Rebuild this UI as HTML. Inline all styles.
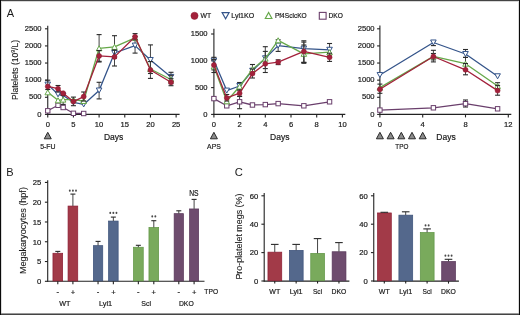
<!DOCTYPE html>
<html><head><meta charset="utf-8"><style>
html,body{margin:0;padding:0;background:#fff;}
body{width:520px;height:315px;overflow:hidden;}
svg{display:block;font-family:"Liberation Sans", sans-serif;will-change:transform;}
</style></head><body>
<svg width="520" height="315" viewBox="0 0 520 315">
<rect x="0" y="0" width="520" height="315" fill="#fff"/>
<text x="10.50" y="17.00" font-size="11" text-anchor="middle" fill="#1a1a1a" >A</text>
<line x1="47.75" y1="25.70" x2="47.75" y2="114.90" stroke="#222" stroke-width="1.1"/>
<line x1="47.25" y1="114.40" x2="179.60" y2="114.40" stroke="#222" stroke-width="1.1"/>
<line x1="44.95" y1="114.40" x2="47.75" y2="114.40" stroke="#222" stroke-width="1.1"/>
<text x="41.60" y="116.60" font-size="7.6" text-anchor="end" fill="#1a1a1a" stroke="#1a1a1a" stroke-width="0.2" >0</text>
<line x1="44.95" y1="97.28" x2="47.75" y2="97.28" stroke="#222" stroke-width="1.1"/>
<text x="41.60" y="99.48" font-size="7.6" text-anchor="end" fill="#1a1a1a" stroke="#1a1a1a" stroke-width="0.2" >500</text>
<line x1="44.95" y1="80.16" x2="47.75" y2="80.16" stroke="#222" stroke-width="1.1"/>
<text x="41.60" y="82.36" font-size="7.6" text-anchor="end" fill="#1a1a1a" stroke="#1a1a1a" stroke-width="0.2" >1000</text>
<line x1="44.95" y1="63.04" x2="47.75" y2="63.04" stroke="#222" stroke-width="1.1"/>
<text x="41.60" y="65.24" font-size="7.6" text-anchor="end" fill="#1a1a1a" stroke="#1a1a1a" stroke-width="0.2" >1500</text>
<line x1="44.95" y1="45.92" x2="47.75" y2="45.92" stroke="#222" stroke-width="1.1"/>
<text x="41.60" y="48.12" font-size="7.6" text-anchor="end" fill="#1a1a1a" stroke="#1a1a1a" stroke-width="0.2" >2000</text>
<line x1="44.95" y1="28.80" x2="47.75" y2="28.80" stroke="#222" stroke-width="1.1"/>
<text x="41.60" y="31.00" font-size="7.6" text-anchor="end" fill="#1a1a1a" stroke="#1a1a1a" stroke-width="0.2" >2500</text>
<line x1="47.75" y1="114.40" x2="47.75" y2="117.40" stroke="#222" stroke-width="1.1"/>
<text x="47.75" y="126.90" font-size="7.6" text-anchor="middle" fill="#1a1a1a" stroke="#1a1a1a" stroke-width="0.2" >0</text>
<line x1="73.42" y1="114.40" x2="73.42" y2="117.40" stroke="#222" stroke-width="1.1"/>
<text x="73.42" y="126.90" font-size="7.6" text-anchor="middle" fill="#1a1a1a" stroke="#1a1a1a" stroke-width="0.2" >5</text>
<line x1="99.10" y1="114.40" x2="99.10" y2="117.40" stroke="#222" stroke-width="1.1"/>
<text x="99.10" y="126.90" font-size="7.6" text-anchor="middle" fill="#1a1a1a" stroke="#1a1a1a" stroke-width="0.2" >10</text>
<line x1="124.77" y1="114.40" x2="124.77" y2="117.40" stroke="#222" stroke-width="1.1"/>
<text x="124.77" y="126.90" font-size="7.6" text-anchor="middle" fill="#1a1a1a" stroke="#1a1a1a" stroke-width="0.2" >15</text>
<line x1="150.45" y1="114.40" x2="150.45" y2="117.40" stroke="#222" stroke-width="1.1"/>
<text x="150.45" y="126.90" font-size="7.6" text-anchor="middle" fill="#1a1a1a" stroke="#1a1a1a" stroke-width="0.2" >20</text>
<line x1="176.12" y1="114.40" x2="176.12" y2="117.40" stroke="#222" stroke-width="1.1"/>
<text x="176.12" y="126.90" font-size="7.6" text-anchor="middle" fill="#1a1a1a" stroke="#1a1a1a" stroke-width="0.2" >25</text>
<text x="113.60" y="140.30" font-size="9.2" text-anchor="middle" fill="#1a1a1a" stroke="#1a1a1a" stroke-width="0.2"  textLength="19.4" lengthAdjust="spacingAndGlyphs">Days</text>
<polygon points="44.25,138.8 51.25,138.8 47.75,132.3" fill="#8c8c8c" stroke="#2a2a2a" stroke-width="1.0" stroke-linejoin="miter"/>
<text x="47.85" y="148.60" font-size="7.8" text-anchor="middle" fill="#1a1a1a" stroke="#1a1a1a" stroke-width="0.2"  textLength="15.4" lengthAdjust="spacingAndGlyphs">5-FU</text>
<text x="0.00" y="0.00" font-size="8.3" text-anchor="middle" fill="#1a1a1a" stroke="#1a1a1a" stroke-width="0.1" transform="translate(17.8,70.0) rotate(-90)" textLength="60" lengthAdjust="spacingAndGlyphs">Platelets (10<tspan font-size="5.2" dy="-2.6">9</tspan><tspan dy="2.6">/L)</tspan></text>
<polyline points="47.75,110.80 58.02,105.30 63.16,107.50 73.42,113.30 83.69,113.50" fill="none" stroke="#6a3f6c" stroke-width="1.3" stroke-linejoin="round"/>
<rect x="45.55" y="108.60" width="4.4" height="4.4" fill="#fff" stroke="#6a3f6c" stroke-width="1.0"/>
<rect x="55.82" y="103.10" width="4.4" height="4.4" fill="#fff" stroke="#6a3f6c" stroke-width="1.0"/>
<rect x="60.95" y="105.30" width="4.4" height="4.4" fill="#fff" stroke="#6a3f6c" stroke-width="1.0"/>
<rect x="71.22" y="111.10" width="4.4" height="4.4" fill="#fff" stroke="#6a3f6c" stroke-width="1.0"/>
<rect x="81.49" y="111.30" width="4.4" height="4.4" fill="#fff" stroke="#6a3f6c" stroke-width="1.0"/>
<line x1="99.10" y1="82.30" x2="99.10" y2="98.90" stroke="#3a3a3a" stroke-width="0.95"/>
<line x1="96.60" y1="82.30" x2="101.60" y2="82.30" stroke="#2a2a2a" stroke-width="1.1"/>
<line x1="96.60" y1="98.90" x2="101.60" y2="98.90" stroke="#2a2a2a" stroke-width="1.1"/>
<line x1="135.05" y1="36.50" x2="135.05" y2="53.10" stroke="#3a3a3a" stroke-width="0.95"/>
<line x1="132.55" y1="36.50" x2="137.55" y2="36.50" stroke="#2a2a2a" stroke-width="1.1"/>
<line x1="132.55" y1="53.10" x2="137.55" y2="53.10" stroke="#2a2a2a" stroke-width="1.1"/>
<line x1="150.45" y1="44.90" x2="150.45" y2="73.50" stroke="#3a3a3a" stroke-width="0.95"/>
<line x1="147.95" y1="44.90" x2="152.95" y2="44.90" stroke="#2a2a2a" stroke-width="1.1"/>
<line x1="147.95" y1="73.50" x2="152.95" y2="73.50" stroke="#2a2a2a" stroke-width="1.1"/>
<line x1="170.99" y1="72.30" x2="170.99" y2="80.90" stroke="#3a3a3a" stroke-width="0.95"/>
<line x1="168.49" y1="72.30" x2="173.49" y2="72.30" stroke="#2a2a2a" stroke-width="1.1"/>
<line x1="168.49" y1="80.90" x2="173.49" y2="80.90" stroke="#2a2a2a" stroke-width="1.1"/>
<polyline points="47.75,84.60 58.02,94.30 63.16,95.50 73.42,102.30 83.69,104.40 99.10,90.50 114.50,53.00 135.05,45.60 150.45,60.00 170.99,76.90" fill="none" stroke="#34548a" stroke-width="1.3" stroke-linejoin="round"/>
<polygon points="44.95,82.08 50.55,82.08 47.75,87.12" fill="#fff" stroke="#34548a" stroke-width="1.0" stroke-linejoin="miter"/>
<polygon points="55.22,91.78 60.82,91.78 58.02,96.82" fill="#fff" stroke="#34548a" stroke-width="1.0" stroke-linejoin="miter"/>
<polygon points="60.36,92.98 65.95,92.98 63.16,98.02" fill="#fff" stroke="#34548a" stroke-width="1.0" stroke-linejoin="miter"/>
<polygon points="70.62,99.78 76.22,99.78 73.42,104.82" fill="#fff" stroke="#34548a" stroke-width="1.0" stroke-linejoin="miter"/>
<polygon points="80.89,101.88 86.49,101.88 83.69,106.92" fill="#fff" stroke="#34548a" stroke-width="1.0" stroke-linejoin="miter"/>
<polygon points="96.30,87.98 101.90,87.98 99.10,93.02" fill="#fff" stroke="#34548a" stroke-width="1.0" stroke-linejoin="miter"/>
<polygon points="111.70,50.48 117.30,50.48 114.50,55.52" fill="#fff" stroke="#34548a" stroke-width="1.0" stroke-linejoin="miter"/>
<polygon points="132.25,43.08 137.85,43.08 135.05,48.12" fill="#fff" stroke="#34548a" stroke-width="1.0" stroke-linejoin="miter"/>
<polygon points="147.65,57.48 153.25,57.48 150.45,62.52" fill="#fff" stroke="#34548a" stroke-width="1.0" stroke-linejoin="miter"/>
<polygon points="168.19,74.38 173.79,74.38 170.99,79.42" fill="#fff" stroke="#34548a" stroke-width="1.0" stroke-linejoin="miter"/>
<line x1="63.16" y1="95.50" x2="63.16" y2="104.40" stroke="#3a3a3a" stroke-width="0.95"/>
<line x1="60.66" y1="95.50" x2="65.66" y2="95.50" stroke="#2a2a2a" stroke-width="1.1"/>
<line x1="60.66" y1="104.40" x2="65.66" y2="104.40" stroke="#2a2a2a" stroke-width="1.1"/>
<line x1="99.10" y1="34.60" x2="99.10" y2="62.00" stroke="#3a3a3a" stroke-width="0.95"/>
<line x1="96.60" y1="34.60" x2="101.60" y2="34.60" stroke="#2a2a2a" stroke-width="1.1"/>
<line x1="96.60" y1="62.00" x2="101.60" y2="62.00" stroke="#2a2a2a" stroke-width="1.1"/>
<line x1="114.50" y1="35.70" x2="114.50" y2="58.10" stroke="#3a3a3a" stroke-width="0.95"/>
<line x1="112.00" y1="35.70" x2="117.00" y2="35.70" stroke="#2a2a2a" stroke-width="1.1"/>
<line x1="112.00" y1="58.10" x2="117.00" y2="58.10" stroke="#2a2a2a" stroke-width="1.1"/>
<line x1="170.99" y1="75.30" x2="170.99" y2="83.70" stroke="#3a3a3a" stroke-width="0.95"/>
<line x1="168.49" y1="75.30" x2="173.49" y2="75.30" stroke="#2a2a2a" stroke-width="1.1"/>
<line x1="168.49" y1="83.70" x2="173.49" y2="83.70" stroke="#2a2a2a" stroke-width="1.1"/>
<polyline points="47.75,92.30 58.02,100.30 63.16,99.60 73.42,99.60 83.69,101.00 99.10,48.30 114.50,46.90 135.05,37.80 150.45,69.00 170.99,79.50" fill="none" stroke="#66a84a" stroke-width="1.3" stroke-linejoin="round"/>
<polygon points="44.95,94.82 50.55,94.82 47.75,89.78" fill="#fff" stroke="#66a84a" stroke-width="1.0" stroke-linejoin="miter"/>
<polygon points="55.22,102.82 60.82,102.82 58.02,97.78" fill="#fff" stroke="#66a84a" stroke-width="1.0" stroke-linejoin="miter"/>
<polygon points="60.36,102.12 65.95,102.12 63.16,97.08" fill="#fff" stroke="#66a84a" stroke-width="1.0" stroke-linejoin="miter"/>
<polygon points="70.62,102.12 76.22,102.12 73.42,97.08" fill="#fff" stroke="#66a84a" stroke-width="1.0" stroke-linejoin="miter"/>
<polygon points="80.89,103.52 86.49,103.52 83.69,98.48" fill="#fff" stroke="#66a84a" stroke-width="1.0" stroke-linejoin="miter"/>
<polygon points="96.30,50.82 101.90,50.82 99.10,45.78" fill="#fff" stroke="#66a84a" stroke-width="1.0" stroke-linejoin="miter"/>
<polygon points="111.70,49.42 117.30,49.42 114.50,44.38" fill="#fff" stroke="#66a84a" stroke-width="1.0" stroke-linejoin="miter"/>
<polygon points="132.25,40.32 137.85,40.32 135.05,35.28" fill="#fff" stroke="#66a84a" stroke-width="1.0" stroke-linejoin="miter"/>
<polygon points="147.65,71.52 153.25,71.52 150.45,66.48" fill="#fff" stroke="#66a84a" stroke-width="1.0" stroke-linejoin="miter"/>
<polygon points="168.19,82.02 173.79,82.02 170.99,76.98" fill="#fff" stroke="#66a84a" stroke-width="1.0" stroke-linejoin="miter"/>
<line x1="47.75" y1="80.20" x2="47.75" y2="89.50" stroke="#3a3a3a" stroke-width="0.95"/>
<line x1="45.25" y1="80.20" x2="50.25" y2="80.20" stroke="#2a2a2a" stroke-width="1.1"/>
<line x1="45.25" y1="89.50" x2="50.25" y2="89.50" stroke="#2a2a2a" stroke-width="1.1"/>
<line x1="58.02" y1="85.50" x2="58.02" y2="92.00" stroke="#3a3a3a" stroke-width="0.95"/>
<line x1="55.52" y1="85.50" x2="60.52" y2="85.50" stroke="#2a2a2a" stroke-width="1.1"/>
<line x1="55.52" y1="92.00" x2="60.52" y2="92.00" stroke="#2a2a2a" stroke-width="1.1"/>
<line x1="73.42" y1="97.10" x2="73.42" y2="105.70" stroke="#3a3a3a" stroke-width="0.95"/>
<line x1="70.92" y1="97.10" x2="75.92" y2="97.10" stroke="#2a2a2a" stroke-width="1.1"/>
<line x1="70.92" y1="105.70" x2="75.92" y2="105.70" stroke="#2a2a2a" stroke-width="1.1"/>
<line x1="83.69" y1="92.00" x2="83.69" y2="101.00" stroke="#3a3a3a" stroke-width="0.95"/>
<line x1="81.19" y1="92.00" x2="86.19" y2="92.00" stroke="#2a2a2a" stroke-width="1.1"/>
<line x1="81.19" y1="101.00" x2="86.19" y2="101.00" stroke="#2a2a2a" stroke-width="1.1"/>
<line x1="99.10" y1="50.50" x2="99.10" y2="61.30" stroke="#3a3a3a" stroke-width="0.95"/>
<line x1="96.60" y1="50.50" x2="101.60" y2="50.50" stroke="#2a2a2a" stroke-width="1.1"/>
<line x1="96.60" y1="61.30" x2="101.60" y2="61.30" stroke="#2a2a2a" stroke-width="1.1"/>
<line x1="114.50" y1="50.00" x2="114.50" y2="66.00" stroke="#3a3a3a" stroke-width="0.95"/>
<line x1="112.00" y1="50.00" x2="117.00" y2="50.00" stroke="#2a2a2a" stroke-width="1.1"/>
<line x1="112.00" y1="66.00" x2="117.00" y2="66.00" stroke="#2a2a2a" stroke-width="1.1"/>
<line x1="135.05" y1="33.60" x2="135.05" y2="39.80" stroke="#3a3a3a" stroke-width="0.95"/>
<line x1="132.55" y1="33.60" x2="137.55" y2="33.60" stroke="#2a2a2a" stroke-width="1.1"/>
<line x1="132.55" y1="39.80" x2="137.55" y2="39.80" stroke="#2a2a2a" stroke-width="1.1"/>
<line x1="150.45" y1="61.60" x2="150.45" y2="78.40" stroke="#3a3a3a" stroke-width="0.95"/>
<line x1="147.95" y1="61.60" x2="152.95" y2="61.60" stroke="#2a2a2a" stroke-width="1.1"/>
<line x1="147.95" y1="78.40" x2="152.95" y2="78.40" stroke="#2a2a2a" stroke-width="1.1"/>
<line x1="170.99" y1="78.70" x2="170.99" y2="85.70" stroke="#3a3a3a" stroke-width="0.95"/>
<line x1="168.49" y1="78.70" x2="173.49" y2="78.70" stroke="#2a2a2a" stroke-width="1.1"/>
<line x1="168.49" y1="85.70" x2="173.49" y2="85.70" stroke="#2a2a2a" stroke-width="1.1"/>
<polyline points="47.75,86.40 58.02,88.70 63.16,93.20 73.42,101.60 83.69,96.60 99.10,55.90 114.50,56.90 135.05,36.70 150.45,70.00 170.99,82.20" fill="none" stroke="#a3213b" stroke-width="1.3" stroke-linejoin="round"/>
<circle cx="47.75" cy="86.40" r="2.5" fill="#a3213b" stroke="#8e1a30" stroke-width="0.5"/>
<circle cx="58.02" cy="88.70" r="2.5" fill="#a3213b" stroke="#8e1a30" stroke-width="0.5"/>
<circle cx="63.16" cy="93.20" r="2.5" fill="#a3213b" stroke="#8e1a30" stroke-width="0.5"/>
<circle cx="73.42" cy="101.60" r="2.5" fill="#a3213b" stroke="#8e1a30" stroke-width="0.5"/>
<circle cx="83.69" cy="96.60" r="2.5" fill="#a3213b" stroke="#8e1a30" stroke-width="0.5"/>
<circle cx="99.10" cy="55.90" r="2.5" fill="#a3213b" stroke="#8e1a30" stroke-width="0.5"/>
<circle cx="114.50" cy="56.90" r="2.5" fill="#a3213b" stroke="#8e1a30" stroke-width="0.5"/>
<circle cx="135.05" cy="36.70" r="2.5" fill="#a3213b" stroke="#8e1a30" stroke-width="0.5"/>
<circle cx="150.45" cy="70.00" r="2.5" fill="#a3213b" stroke="#8e1a30" stroke-width="0.5"/>
<circle cx="170.99" cy="82.20" r="2.5" fill="#a3213b" stroke="#8e1a30" stroke-width="0.5"/>
<line x1="213.90" y1="28.70" x2="213.90" y2="114.90" stroke="#222" stroke-width="1.1"/>
<line x1="213.40" y1="114.40" x2="345.30" y2="114.40" stroke="#222" stroke-width="1.1"/>
<line x1="211.10" y1="114.40" x2="213.90" y2="114.40" stroke="#222" stroke-width="1.1"/>
<text x="207.60" y="116.60" font-size="7.6" text-anchor="end" fill="#1a1a1a" stroke="#1a1a1a" stroke-width="0.2" >0</text>
<line x1="211.10" y1="87.60" x2="213.90" y2="87.60" stroke="#222" stroke-width="1.1"/>
<text x="207.60" y="89.80" font-size="7.6" text-anchor="end" fill="#1a1a1a" stroke="#1a1a1a" stroke-width="0.2" >500</text>
<line x1="211.10" y1="60.80" x2="213.90" y2="60.80" stroke="#222" stroke-width="1.1"/>
<text x="207.60" y="63.00" font-size="7.6" text-anchor="end" fill="#1a1a1a" stroke="#1a1a1a" stroke-width="0.2" >1000</text>
<line x1="211.10" y1="34.00" x2="213.90" y2="34.00" stroke="#222" stroke-width="1.1"/>
<text x="207.60" y="36.20" font-size="7.6" text-anchor="end" fill="#1a1a1a" stroke="#1a1a1a" stroke-width="0.2" >1500</text>
<line x1="213.90" y1="114.40" x2="213.90" y2="117.40" stroke="#222" stroke-width="1.1"/>
<text x="213.90" y="126.90" font-size="7.6" text-anchor="middle" fill="#1a1a1a" stroke="#1a1a1a" stroke-width="0.2" >0</text>
<line x1="239.60" y1="114.40" x2="239.60" y2="117.40" stroke="#222" stroke-width="1.1"/>
<text x="239.60" y="126.90" font-size="7.6" text-anchor="middle" fill="#1a1a1a" stroke="#1a1a1a" stroke-width="0.2" >2</text>
<line x1="265.30" y1="114.40" x2="265.30" y2="117.40" stroke="#222" stroke-width="1.1"/>
<text x="265.30" y="126.90" font-size="7.6" text-anchor="middle" fill="#1a1a1a" stroke="#1a1a1a" stroke-width="0.2" >4</text>
<line x1="291.00" y1="114.40" x2="291.00" y2="117.40" stroke="#222" stroke-width="1.1"/>
<text x="291.00" y="126.90" font-size="7.6" text-anchor="middle" fill="#1a1a1a" stroke="#1a1a1a" stroke-width="0.2" >6</text>
<line x1="316.70" y1="114.40" x2="316.70" y2="117.40" stroke="#222" stroke-width="1.1"/>
<text x="316.70" y="126.90" font-size="7.6" text-anchor="middle" fill="#1a1a1a" stroke="#1a1a1a" stroke-width="0.2" >8</text>
<line x1="342.40" y1="114.40" x2="342.40" y2="117.40" stroke="#222" stroke-width="1.1"/>
<text x="342.40" y="126.90" font-size="7.6" text-anchor="middle" fill="#1a1a1a" stroke="#1a1a1a" stroke-width="0.2" >10</text>
<text x="279.80" y="140.30" font-size="9.2" text-anchor="middle" fill="#1a1a1a" stroke="#1a1a1a" stroke-width="0.2"  textLength="19.4" lengthAdjust="spacingAndGlyphs">Days</text>
<polygon points="210.40,138.8 217.40,138.8 213.90,132.3" fill="#8c8c8c" stroke="#2a2a2a" stroke-width="1.0" stroke-linejoin="miter"/>
<text x="213.90" y="148.60" font-size="7.8" text-anchor="middle" fill="#1a1a1a" stroke="#1a1a1a" stroke-width="0.2"  textLength="13.6" lengthAdjust="spacingAndGlyphs">APS</text>
<line x1="239.60" y1="96.50" x2="239.60" y2="108.70" stroke="#3a3a3a" stroke-width="0.95"/>
<line x1="237.10" y1="96.50" x2="242.10" y2="96.50" stroke="#2a2a2a" stroke-width="1.1"/>
<line x1="237.10" y1="108.70" x2="242.10" y2="108.70" stroke="#2a2a2a" stroke-width="1.1"/>
<polyline points="213.90,98.60 226.75,105.80 239.60,101.80 252.45,105.00 265.30,104.60 278.15,103.60 303.85,105.80 329.55,101.80" fill="none" stroke="#6a3f6c" stroke-width="1.3" stroke-linejoin="round"/>
<rect x="211.70" y="96.40" width="4.4" height="4.4" fill="#fff" stroke="#6a3f6c" stroke-width="1.0"/>
<rect x="224.55" y="103.60" width="4.4" height="4.4" fill="#fff" stroke="#6a3f6c" stroke-width="1.0"/>
<rect x="237.40" y="99.60" width="4.4" height="4.4" fill="#fff" stroke="#6a3f6c" stroke-width="1.0"/>
<rect x="250.25" y="102.80" width="4.4" height="4.4" fill="#fff" stroke="#6a3f6c" stroke-width="1.0"/>
<rect x="263.10" y="102.40" width="4.4" height="4.4" fill="#fff" stroke="#6a3f6c" stroke-width="1.0"/>
<rect x="275.95" y="101.40" width="4.4" height="4.4" fill="#fff" stroke="#6a3f6c" stroke-width="1.0"/>
<rect x="301.65" y="103.60" width="4.4" height="4.4" fill="#fff" stroke="#6a3f6c" stroke-width="1.0"/>
<rect x="327.35" y="99.60" width="4.4" height="4.4" fill="#fff" stroke="#6a3f6c" stroke-width="1.0"/>
<line x1="239.60" y1="82.50" x2="239.60" y2="90.00" stroke="#3a3a3a" stroke-width="0.95"/>
<line x1="237.10" y1="82.50" x2="242.10" y2="82.50" stroke="#2a2a2a" stroke-width="1.1"/>
<line x1="237.10" y1="90.00" x2="242.10" y2="90.00" stroke="#2a2a2a" stroke-width="1.1"/>
<line x1="278.15" y1="39.80" x2="278.15" y2="51.40" stroke="#3a3a3a" stroke-width="0.95"/>
<line x1="275.65" y1="39.80" x2="280.65" y2="39.80" stroke="#2a2a2a" stroke-width="1.1"/>
<line x1="275.65" y1="51.40" x2="280.65" y2="51.40" stroke="#2a2a2a" stroke-width="1.1"/>
<line x1="303.85" y1="42.10" x2="303.85" y2="62.40" stroke="#3a3a3a" stroke-width="0.95"/>
<line x1="301.35" y1="42.10" x2="306.35" y2="42.10" stroke="#2a2a2a" stroke-width="1.1"/>
<line x1="301.35" y1="62.40" x2="306.35" y2="62.40" stroke="#2a2a2a" stroke-width="1.1"/>
<line x1="329.55" y1="43.50" x2="329.55" y2="56.00" stroke="#3a3a3a" stroke-width="0.95"/>
<line x1="327.05" y1="43.50" x2="332.05" y2="43.50" stroke="#2a2a2a" stroke-width="1.1"/>
<line x1="327.05" y1="56.00" x2="332.05" y2="56.00" stroke="#2a2a2a" stroke-width="1.1"/>
<polyline points="213.90,60.60 226.75,90.60 239.60,86.00 252.45,70.70 265.30,58.30 278.15,45.60 303.85,48.70 329.55,49.80" fill="none" stroke="#34548a" stroke-width="1.3" stroke-linejoin="round"/>
<polygon points="211.10,58.08 216.70,58.08 213.90,63.12" fill="#fff" stroke="#34548a" stroke-width="1.0" stroke-linejoin="miter"/>
<polygon points="223.95,88.08 229.55,88.08 226.75,93.12" fill="#fff" stroke="#34548a" stroke-width="1.0" stroke-linejoin="miter"/>
<polygon points="236.80,83.48 242.40,83.48 239.60,88.52" fill="#fff" stroke="#34548a" stroke-width="1.0" stroke-linejoin="miter"/>
<polygon points="249.65,68.18 255.25,68.18 252.45,73.22" fill="#fff" stroke="#34548a" stroke-width="1.0" stroke-linejoin="miter"/>
<polygon points="262.50,55.78 268.10,55.78 265.30,60.82" fill="#fff" stroke="#34548a" stroke-width="1.0" stroke-linejoin="miter"/>
<polygon points="275.35,43.08 280.95,43.08 278.15,48.12" fill="#fff" stroke="#34548a" stroke-width="1.0" stroke-linejoin="miter"/>
<polygon points="301.05,46.18 306.65,46.18 303.85,51.22" fill="#fff" stroke="#34548a" stroke-width="1.0" stroke-linejoin="miter"/>
<polygon points="326.75,47.28 332.35,47.28 329.55,52.32" fill="#fff" stroke="#34548a" stroke-width="1.0" stroke-linejoin="miter"/>
<line x1="213.90" y1="59.60" x2="213.90" y2="69.90" stroke="#3a3a3a" stroke-width="0.95"/>
<line x1="211.40" y1="59.60" x2="216.40" y2="59.60" stroke="#2a2a2a" stroke-width="1.1"/>
<line x1="211.40" y1="69.90" x2="216.40" y2="69.90" stroke="#2a2a2a" stroke-width="1.1"/>
<line x1="252.45" y1="64.50" x2="252.45" y2="74.00" stroke="#3a3a3a" stroke-width="0.95"/>
<line x1="249.95" y1="64.50" x2="254.95" y2="64.50" stroke="#2a2a2a" stroke-width="1.1"/>
<line x1="249.95" y1="74.00" x2="254.95" y2="74.00" stroke="#2a2a2a" stroke-width="1.1"/>
<line x1="265.30" y1="46.70" x2="265.30" y2="68.60" stroke="#3a3a3a" stroke-width="0.95"/>
<line x1="262.80" y1="46.70" x2="267.80" y2="46.70" stroke="#2a2a2a" stroke-width="1.1"/>
<line x1="262.80" y1="68.60" x2="267.80" y2="68.60" stroke="#2a2a2a" stroke-width="1.1"/>
<line x1="303.85" y1="45.00" x2="303.85" y2="62.40" stroke="#3a3a3a" stroke-width="0.95"/>
<line x1="301.35" y1="45.00" x2="306.35" y2="45.00" stroke="#2a2a2a" stroke-width="1.1"/>
<line x1="301.35" y1="62.40" x2="306.35" y2="62.40" stroke="#2a2a2a" stroke-width="1.1"/>
<polyline points="213.90,66.50 226.75,101.30 239.60,86.50 252.45,69.30 265.30,58.60 278.15,40.30 303.85,53.80 329.55,52.20" fill="none" stroke="#66a84a" stroke-width="1.3" stroke-linejoin="round"/>
<polygon points="211.10,69.02 216.70,69.02 213.90,63.98" fill="#fff" stroke="#66a84a" stroke-width="1.0" stroke-linejoin="miter"/>
<polygon points="223.95,103.82 229.55,103.82 226.75,98.78" fill="#fff" stroke="#66a84a" stroke-width="1.0" stroke-linejoin="miter"/>
<polygon points="236.80,89.02 242.40,89.02 239.60,83.98" fill="#fff" stroke="#66a84a" stroke-width="1.0" stroke-linejoin="miter"/>
<polygon points="249.65,71.82 255.25,71.82 252.45,66.78" fill="#fff" stroke="#66a84a" stroke-width="1.0" stroke-linejoin="miter"/>
<polygon points="262.50,61.12 268.10,61.12 265.30,56.08" fill="#fff" stroke="#66a84a" stroke-width="1.0" stroke-linejoin="miter"/>
<polygon points="275.35,42.82 280.95,42.82 278.15,37.78" fill="#fff" stroke="#66a84a" stroke-width="1.0" stroke-linejoin="miter"/>
<polygon points="301.05,56.32 306.65,56.32 303.85,51.28" fill="#fff" stroke="#66a84a" stroke-width="1.0" stroke-linejoin="miter"/>
<polygon points="326.75,54.72 332.35,54.72 329.55,49.68" fill="#fff" stroke="#66a84a" stroke-width="1.0" stroke-linejoin="miter"/>
<line x1="213.90" y1="57.30" x2="213.90" y2="72.50" stroke="#3a3a3a" stroke-width="0.95"/>
<line x1="211.40" y1="57.30" x2="216.40" y2="57.30" stroke="#2a2a2a" stroke-width="1.1"/>
<line x1="211.40" y1="72.50" x2="216.40" y2="72.50" stroke="#2a2a2a" stroke-width="1.1"/>
<line x1="226.75" y1="94.50" x2="226.75" y2="101.00" stroke="#3a3a3a" stroke-width="0.95"/>
<line x1="224.25" y1="94.50" x2="229.25" y2="94.50" stroke="#2a2a2a" stroke-width="1.1"/>
<line x1="224.25" y1="101.00" x2="229.25" y2="101.00" stroke="#2a2a2a" stroke-width="1.1"/>
<line x1="239.60" y1="90.00" x2="239.60" y2="96.20" stroke="#3a3a3a" stroke-width="0.95"/>
<line x1="237.10" y1="90.00" x2="242.10" y2="90.00" stroke="#2a2a2a" stroke-width="1.1"/>
<line x1="237.10" y1="96.20" x2="242.10" y2="96.20" stroke="#2a2a2a" stroke-width="1.1"/>
<line x1="252.45" y1="69.00" x2="252.45" y2="78.00" stroke="#3a3a3a" stroke-width="0.95"/>
<line x1="249.95" y1="69.00" x2="254.95" y2="69.00" stroke="#2a2a2a" stroke-width="1.1"/>
<line x1="249.95" y1="78.00" x2="254.95" y2="78.00" stroke="#2a2a2a" stroke-width="1.1"/>
<line x1="265.30" y1="51.40" x2="265.30" y2="72.50" stroke="#3a3a3a" stroke-width="0.95"/>
<line x1="262.80" y1="51.40" x2="267.80" y2="51.40" stroke="#2a2a2a" stroke-width="1.1"/>
<line x1="262.80" y1="72.50" x2="267.80" y2="72.50" stroke="#2a2a2a" stroke-width="1.1"/>
<line x1="278.15" y1="59.80" x2="278.15" y2="64.60" stroke="#3a3a3a" stroke-width="0.95"/>
<line x1="275.65" y1="59.80" x2="280.65" y2="59.80" stroke="#2a2a2a" stroke-width="1.1"/>
<line x1="275.65" y1="64.60" x2="280.65" y2="64.60" stroke="#2a2a2a" stroke-width="1.1"/>
<line x1="303.85" y1="40.80" x2="303.85" y2="63.30" stroke="#3a3a3a" stroke-width="0.95"/>
<line x1="301.35" y1="40.80" x2="306.35" y2="40.80" stroke="#2a2a2a" stroke-width="1.1"/>
<line x1="301.35" y1="63.30" x2="306.35" y2="63.30" stroke="#2a2a2a" stroke-width="1.1"/>
<line x1="329.55" y1="53.20" x2="329.55" y2="61.40" stroke="#3a3a3a" stroke-width="0.95"/>
<line x1="327.05" y1="53.20" x2="332.05" y2="53.20" stroke="#2a2a2a" stroke-width="1.1"/>
<line x1="327.05" y1="61.40" x2="332.05" y2="61.40" stroke="#2a2a2a" stroke-width="1.1"/>
<polyline points="213.90,65.00 226.75,97.90 239.60,93.20 252.45,73.60 265.30,63.80 278.15,62.20 303.85,51.40 329.55,57.30" fill="none" stroke="#a3213b" stroke-width="1.3" stroke-linejoin="round"/>
<circle cx="213.90" cy="65.00" r="2.5" fill="#a3213b" stroke="#8e1a30" stroke-width="0.5"/>
<circle cx="226.75" cy="97.90" r="2.5" fill="#a3213b" stroke="#8e1a30" stroke-width="0.5"/>
<circle cx="239.60" cy="93.20" r="2.5" fill="#a3213b" stroke="#8e1a30" stroke-width="0.5"/>
<circle cx="252.45" cy="73.60" r="2.5" fill="#a3213b" stroke="#8e1a30" stroke-width="0.5"/>
<circle cx="265.30" cy="63.80" r="2.5" fill="#a3213b" stroke="#8e1a30" stroke-width="0.5"/>
<circle cx="278.15" cy="62.20" r="2.5" fill="#a3213b" stroke="#8e1a30" stroke-width="0.5"/>
<circle cx="303.85" cy="51.40" r="2.5" fill="#a3213b" stroke="#8e1a30" stroke-width="0.5"/>
<circle cx="329.55" cy="57.30" r="2.5" fill="#a3213b" stroke="#8e1a30" stroke-width="0.5"/>
<line x1="379.90" y1="25.40" x2="379.90" y2="114.90" stroke="#222" stroke-width="1.1"/>
<line x1="379.40" y1="114.40" x2="511.30" y2="114.40" stroke="#222" stroke-width="1.1"/>
<line x1="377.10" y1="114.40" x2="379.90" y2="114.40" stroke="#222" stroke-width="1.1"/>
<text x="374.60" y="116.60" font-size="7.6" text-anchor="end" fill="#1a1a1a" stroke="#1a1a1a" stroke-width="0.2" >0</text>
<line x1="377.10" y1="97.28" x2="379.90" y2="97.28" stroke="#222" stroke-width="1.1"/>
<text x="374.60" y="99.48" font-size="7.6" text-anchor="end" fill="#1a1a1a" stroke="#1a1a1a" stroke-width="0.2" >500</text>
<line x1="377.10" y1="80.16" x2="379.90" y2="80.16" stroke="#222" stroke-width="1.1"/>
<text x="374.60" y="82.36" font-size="7.6" text-anchor="end" fill="#1a1a1a" stroke="#1a1a1a" stroke-width="0.2" >1000</text>
<line x1="377.10" y1="63.04" x2="379.90" y2="63.04" stroke="#222" stroke-width="1.1"/>
<text x="374.60" y="65.24" font-size="7.6" text-anchor="end" fill="#1a1a1a" stroke="#1a1a1a" stroke-width="0.2" >1500</text>
<line x1="377.10" y1="45.92" x2="379.90" y2="45.92" stroke="#222" stroke-width="1.1"/>
<text x="374.60" y="48.12" font-size="7.6" text-anchor="end" fill="#1a1a1a" stroke="#1a1a1a" stroke-width="0.2" >2000</text>
<line x1="377.10" y1="28.80" x2="379.90" y2="28.80" stroke="#222" stroke-width="1.1"/>
<text x="374.60" y="31.00" font-size="7.6" text-anchor="end" fill="#1a1a1a" stroke="#1a1a1a" stroke-width="0.2" >2500</text>
<line x1="379.90" y1="114.40" x2="379.90" y2="117.40" stroke="#222" stroke-width="1.1"/>
<text x="379.90" y="126.90" font-size="7.6" text-anchor="middle" fill="#1a1a1a" stroke="#1a1a1a" stroke-width="0.2" >0</text>
<line x1="422.70" y1="114.40" x2="422.70" y2="117.40" stroke="#222" stroke-width="1.1"/>
<text x="422.70" y="126.90" font-size="7.6" text-anchor="middle" fill="#1a1a1a" stroke="#1a1a1a" stroke-width="0.2" >4</text>
<line x1="465.50" y1="114.40" x2="465.50" y2="117.40" stroke="#222" stroke-width="1.1"/>
<text x="465.50" y="126.90" font-size="7.6" text-anchor="middle" fill="#1a1a1a" stroke="#1a1a1a" stroke-width="0.2" >8</text>
<line x1="508.30" y1="114.40" x2="508.30" y2="117.40" stroke="#222" stroke-width="1.1"/>
<text x="508.30" y="126.90" font-size="7.6" text-anchor="middle" fill="#1a1a1a" stroke="#1a1a1a" stroke-width="0.2" >12</text>
<text x="446.00" y="140.30" font-size="9.2" text-anchor="middle" fill="#1a1a1a" stroke="#1a1a1a" stroke-width="0.2"  textLength="19.4" lengthAdjust="spacingAndGlyphs">Days</text>
<polygon points="376.40,138.8 383.40,138.8 379.90,132.3" fill="#8c8c8c" stroke="#2a2a2a" stroke-width="1.0" stroke-linejoin="miter"/>
<polygon points="387.10,138.8 394.10,138.8 390.60,132.3" fill="#8c8c8c" stroke="#2a2a2a" stroke-width="1.0" stroke-linejoin="miter"/>
<polygon points="397.80,138.8 404.80,138.8 401.30,132.3" fill="#8c8c8c" stroke="#2a2a2a" stroke-width="1.0" stroke-linejoin="miter"/>
<polygon points="408.50,138.8 415.50,138.8 412.00,132.3" fill="#8c8c8c" stroke="#2a2a2a" stroke-width="1.0" stroke-linejoin="miter"/>
<polygon points="419.20,138.8 426.20,138.8 422.70,132.3" fill="#8c8c8c" stroke="#2a2a2a" stroke-width="1.0" stroke-linejoin="miter"/>
<text x="401.80" y="148.60" font-size="7.8" text-anchor="middle" fill="#1a1a1a" stroke="#1a1a1a" stroke-width="0.2"  textLength="13.0" lengthAdjust="spacingAndGlyphs">TPO</text>
<line x1="465.50" y1="100.00" x2="465.50" y2="107.00" stroke="#3a3a3a" stroke-width="0.95"/>
<line x1="463.00" y1="100.00" x2="468.00" y2="100.00" stroke="#2a2a2a" stroke-width="1.1"/>
<line x1="463.00" y1="107.00" x2="468.00" y2="107.00" stroke="#2a2a2a" stroke-width="1.1"/>
<polyline points="379.90,110.10 433.40,107.80 465.50,103.70 497.60,108.80" fill="none" stroke="#6a3f6c" stroke-width="1.3" stroke-linejoin="round"/>
<rect x="377.70" y="107.90" width="4.4" height="4.4" fill="#fff" stroke="#6a3f6c" stroke-width="1.0"/>
<rect x="431.20" y="105.60" width="4.4" height="4.4" fill="#fff" stroke="#6a3f6c" stroke-width="1.0"/>
<rect x="463.30" y="101.50" width="4.4" height="4.4" fill="#fff" stroke="#6a3f6c" stroke-width="1.0"/>
<rect x="495.40" y="106.60" width="4.4" height="4.4" fill="#fff" stroke="#6a3f6c" stroke-width="1.0"/>
<line x1="433.40" y1="41.00" x2="433.40" y2="45.60" stroke="#3a3a3a" stroke-width="0.95"/>
<line x1="430.90" y1="41.00" x2="435.90" y2="41.00" stroke="#2a2a2a" stroke-width="1.1"/>
<line x1="430.90" y1="45.60" x2="435.90" y2="45.60" stroke="#2a2a2a" stroke-width="1.1"/>
<line x1="465.50" y1="49.50" x2="465.50" y2="57.40" stroke="#3a3a3a" stroke-width="0.95"/>
<line x1="463.00" y1="49.50" x2="468.00" y2="49.50" stroke="#2a2a2a" stroke-width="1.1"/>
<line x1="463.00" y1="57.40" x2="468.00" y2="57.40" stroke="#2a2a2a" stroke-width="1.1"/>
<polyline points="379.90,75.00 433.40,42.50 465.50,54.00 497.60,76.30" fill="none" stroke="#34548a" stroke-width="1.3" stroke-linejoin="round"/>
<polygon points="377.10,72.48 382.70,72.48 379.90,77.52" fill="#fff" stroke="#34548a" stroke-width="1.0" stroke-linejoin="miter"/>
<polygon points="430.60,39.98 436.20,39.98 433.40,45.02" fill="#fff" stroke="#34548a" stroke-width="1.0" stroke-linejoin="miter"/>
<polygon points="462.70,51.48 468.30,51.48 465.50,56.52" fill="#fff" stroke="#34548a" stroke-width="1.0" stroke-linejoin="miter"/>
<polygon points="494.80,73.78 500.40,73.78 497.60,78.82" fill="#fff" stroke="#34548a" stroke-width="1.0" stroke-linejoin="miter"/>
<line x1="433.40" y1="53.50" x2="433.40" y2="59.90" stroke="#3a3a3a" stroke-width="0.95"/>
<line x1="430.90" y1="53.50" x2="435.90" y2="53.50" stroke="#2a2a2a" stroke-width="1.1"/>
<line x1="430.90" y1="59.90" x2="435.90" y2="59.90" stroke="#2a2a2a" stroke-width="1.1"/>
<line x1="465.50" y1="57.40" x2="465.50" y2="70.00" stroke="#3a3a3a" stroke-width="0.95"/>
<line x1="463.00" y1="57.40" x2="468.00" y2="57.40" stroke="#2a2a2a" stroke-width="1.1"/>
<line x1="463.00" y1="70.00" x2="468.00" y2="70.00" stroke="#2a2a2a" stroke-width="1.1"/>
<line x1="497.60" y1="82.70" x2="497.60" y2="89.30" stroke="#3a3a3a" stroke-width="0.95"/>
<line x1="495.10" y1="82.70" x2="500.10" y2="82.70" stroke="#2a2a2a" stroke-width="1.1"/>
<line x1="495.10" y1="89.30" x2="500.10" y2="89.30" stroke="#2a2a2a" stroke-width="1.1"/>
<polyline points="379.90,87.60 433.40,56.40 465.50,63.70 497.60,86.00" fill="none" stroke="#66a84a" stroke-width="1.3" stroke-linejoin="round"/>
<polygon points="377.10,90.12 382.70,90.12 379.90,85.08" fill="#fff" stroke="#66a84a" stroke-width="1.0" stroke-linejoin="miter"/>
<polygon points="430.60,58.92 436.20,58.92 433.40,53.88" fill="#fff" stroke="#66a84a" stroke-width="1.0" stroke-linejoin="miter"/>
<polygon points="462.70,66.22 468.30,66.22 465.50,61.18" fill="#fff" stroke="#66a84a" stroke-width="1.0" stroke-linejoin="miter"/>
<polygon points="494.80,88.52 500.40,88.52 497.60,83.48" fill="#fff" stroke="#66a84a" stroke-width="1.0" stroke-linejoin="miter"/>
<line x1="379.90" y1="84.10" x2="379.90" y2="93.30" stroke="#3a3a3a" stroke-width="0.95"/>
<line x1="377.40" y1="84.10" x2="382.40" y2="84.10" stroke="#2a2a2a" stroke-width="1.1"/>
<line x1="377.40" y1="93.30" x2="382.40" y2="93.30" stroke="#2a2a2a" stroke-width="1.1"/>
<line x1="433.40" y1="50.30" x2="433.40" y2="61.90" stroke="#3a3a3a" stroke-width="0.95"/>
<line x1="430.90" y1="50.30" x2="435.90" y2="50.30" stroke="#2a2a2a" stroke-width="1.1"/>
<line x1="430.90" y1="61.90" x2="435.90" y2="61.90" stroke="#2a2a2a" stroke-width="1.1"/>
<line x1="465.50" y1="63.50" x2="465.50" y2="74.80" stroke="#3a3a3a" stroke-width="0.95"/>
<line x1="463.00" y1="63.50" x2="468.00" y2="63.50" stroke="#2a2a2a" stroke-width="1.1"/>
<line x1="463.00" y1="74.80" x2="468.00" y2="74.80" stroke="#2a2a2a" stroke-width="1.1"/>
<line x1="497.60" y1="85.40" x2="497.60" y2="95.20" stroke="#3a3a3a" stroke-width="0.95"/>
<line x1="495.10" y1="85.40" x2="500.10" y2="85.40" stroke="#2a2a2a" stroke-width="1.1"/>
<line x1="495.10" y1="95.20" x2="500.10" y2="95.20" stroke="#2a2a2a" stroke-width="1.1"/>
<polyline points="379.90,89.30 433.40,56.50 465.50,69.80 497.60,90.60" fill="none" stroke="#a3213b" stroke-width="1.3" stroke-linejoin="round"/>
<circle cx="379.90" cy="89.30" r="2.5" fill="#a3213b" stroke="#8e1a30" stroke-width="0.5"/>
<circle cx="433.40" cy="56.50" r="2.5" fill="#a3213b" stroke="#8e1a30" stroke-width="0.5"/>
<circle cx="465.50" cy="69.80" r="2.5" fill="#a3213b" stroke="#8e1a30" stroke-width="0.5"/>
<circle cx="497.60" cy="90.60" r="2.5" fill="#a3213b" stroke="#8e1a30" stroke-width="0.5"/>
<circle cx="194.50" cy="15.80" r="3.6" fill="#a3213b" stroke="#8e1a30" stroke-width="0.5"/>
<text x="200.50" y="18.20" font-size="7.6" text-anchor="start" fill="#1a1a1a" stroke="#1a1a1a" stroke-width="0.2"  textLength="10.6" lengthAdjust="spacingAndGlyphs">WT</text>
<polygon points="222.10,12.55 229.10,12.55 225.60,18.85" fill="#fff" stroke="#34548a" stroke-width="1.15" stroke-linejoin="miter"/>
<text x="231.30" y="18.20" font-size="7.6" text-anchor="start" fill="#1a1a1a" stroke="#1a1a1a" stroke-width="0.2"  textLength="23" lengthAdjust="spacingAndGlyphs">Lyl1KO</text>
<polygon points="265.30,18.47 271.90,18.47 268.60,12.53" fill="#fff" stroke="#66a84a" stroke-width="1.15" stroke-linejoin="miter"/>
<text x="274.90" y="18.20" font-size="7.6" text-anchor="start" fill="#1a1a1a" stroke="#1a1a1a" stroke-width="0.2"  textLength="31.8" lengthAdjust="spacingAndGlyphs">Pf4SclcKO</text>
<rect x="319.30" y="12.40" width="6.8" height="6.8" fill="#fff" stroke="#6a3f6c" stroke-width="1.1"/>
<text x="328.50" y="18.20" font-size="7.6" text-anchor="start" fill="#1a1a1a" stroke="#1a1a1a" stroke-width="0.2"  textLength="14.4" lengthAdjust="spacingAndGlyphs">DKO</text>
<text x="10.00" y="176.00" font-size="11" text-anchor="middle" fill="#1a1a1a" >B</text>
<line x1="47.70" y1="180.20" x2="47.70" y2="281.80" stroke="#222" stroke-width="1.1"/>
<line x1="47.20" y1="281.30" x2="204.50" y2="281.30" stroke="#222" stroke-width="1.1"/>
<line x1="44.90" y1="281.30" x2="47.70" y2="281.30" stroke="#222" stroke-width="1.1"/>
<text x="41.30" y="284.05" font-size="7.7" text-anchor="end" fill="#1a1a1a" stroke="#1a1a1a" stroke-width="0.2" >0</text>
<line x1="44.90" y1="261.53" x2="47.70" y2="261.53" stroke="#222" stroke-width="1.1"/>
<text x="41.30" y="264.28" font-size="7.7" text-anchor="end" fill="#1a1a1a" stroke="#1a1a1a" stroke-width="0.2" >5</text>
<line x1="44.90" y1="241.75" x2="47.70" y2="241.75" stroke="#222" stroke-width="1.1"/>
<text x="41.30" y="244.50" font-size="7.7" text-anchor="end" fill="#1a1a1a" stroke="#1a1a1a" stroke-width="0.2" >10</text>
<line x1="44.90" y1="221.98" x2="47.70" y2="221.98" stroke="#222" stroke-width="1.1"/>
<text x="41.30" y="224.73" font-size="7.7" text-anchor="end" fill="#1a1a1a" stroke="#1a1a1a" stroke-width="0.2" >15</text>
<line x1="44.90" y1="202.20" x2="47.70" y2="202.20" stroke="#222" stroke-width="1.1"/>
<text x="41.30" y="204.95" font-size="7.7" text-anchor="end" fill="#1a1a1a" stroke="#1a1a1a" stroke-width="0.2" >20</text>
<line x1="44.90" y1="182.43" x2="47.70" y2="182.43" stroke="#222" stroke-width="1.1"/>
<text x="41.30" y="185.18" font-size="7.7" text-anchor="end" fill="#1a1a1a" stroke="#1a1a1a" stroke-width="0.2" >25</text>
<text x="0.00" y="0.00" font-size="8.4" text-anchor="middle" fill="#1a1a1a" stroke="#1a1a1a" stroke-width="0.1" transform="translate(26.1,230.6) rotate(-90)" textLength="87" lengthAdjust="spacingAndGlyphs">Megakaryocytes (hpf)</text>
<rect x="52.95" y="253.25" width="9.70" height="27.70" fill="#a23a48" stroke="#8c1d33" stroke-width="0.7"/>
<line x1="57.80" y1="251.40" x2="57.80" y2="253.20" stroke="#454545" stroke-width="1.0"/>
<line x1="55.30" y1="251.40" x2="60.30" y2="251.40" stroke="#2a2a2a" stroke-width="1.1"/>
<line x1="57.80" y1="281.30" x2="57.80" y2="284.30" stroke="#222" stroke-width="1.1"/>
<rect x="68.05" y="206.05" width="9.70" height="74.90" fill="#a23a48" stroke="#8c1d33" stroke-width="0.7"/>
<line x1="72.90" y1="194.10" x2="72.90" y2="206.00" stroke="#454545" stroke-width="1.0"/>
<line x1="70.40" y1="194.10" x2="75.40" y2="194.10" stroke="#2a2a2a" stroke-width="1.1"/>
<line x1="72.90" y1="281.30" x2="72.90" y2="284.30" stroke="#222" stroke-width="1.1"/>
<text x="57.80" y="294.30" font-size="7.6" text-anchor="middle" fill="#1a1a1a" stroke="#1a1a1a" stroke-width="0.2" >-</text>
<text x="72.90" y="294.60" font-size="7.6" text-anchor="middle" fill="#1a1a1a" stroke="#1a1a1a" stroke-width="0.2" >+</text>
<text x="64.85" y="305.50" font-size="7.7" text-anchor="middle" fill="#1a1a1a" stroke="#1a1a1a" stroke-width="0.2"  textLength="11.2" lengthAdjust="spacingAndGlyphs">WT</text>
<ellipse cx="69.80" cy="190.70" rx="0.95" ry="1.1" fill="#4a4a4a"/>
<ellipse cx="72.90" cy="190.70" rx="0.95" ry="1.1" fill="#4a4a4a"/>
<ellipse cx="76.00" cy="190.70" rx="0.95" ry="1.1" fill="#4a4a4a"/>
<rect x="93.35" y="245.65" width="9.40" height="35.30" fill="#54688c" stroke="#3a5078" stroke-width="0.7"/>
<line x1="98.05" y1="241.40" x2="98.05" y2="245.60" stroke="#454545" stroke-width="1.0"/>
<line x1="95.55" y1="241.40" x2="100.55" y2="241.40" stroke="#2a2a2a" stroke-width="1.1"/>
<line x1="98.05" y1="281.30" x2="98.05" y2="284.30" stroke="#222" stroke-width="1.1"/>
<rect x="108.55" y="221.05" width="9.60" height="59.90" fill="#54688c" stroke="#3a5078" stroke-width="0.7"/>
<line x1="113.35" y1="217.10" x2="113.35" y2="221.00" stroke="#454545" stroke-width="1.0"/>
<line x1="110.85" y1="217.10" x2="115.85" y2="217.10" stroke="#2a2a2a" stroke-width="1.1"/>
<line x1="113.35" y1="281.30" x2="113.35" y2="284.30" stroke="#222" stroke-width="1.1"/>
<text x="98.05" y="294.30" font-size="7.6" text-anchor="middle" fill="#1a1a1a" stroke="#1a1a1a" stroke-width="0.2" >-</text>
<text x="113.35" y="294.60" font-size="7.6" text-anchor="middle" fill="#1a1a1a" stroke="#1a1a1a" stroke-width="0.2" >+</text>
<text x="105.55" y="305.50" font-size="7.7" text-anchor="middle" fill="#1a1a1a" stroke="#1a1a1a" stroke-width="0.2"  textLength="13.2" lengthAdjust="spacingAndGlyphs">Lyl1</text>
<ellipse cx="110.25" cy="212.90" rx="0.95" ry="1.1" fill="#4a4a4a"/>
<ellipse cx="113.35" cy="212.90" rx="0.95" ry="1.1" fill="#4a4a4a"/>
<ellipse cx="116.45" cy="212.90" rx="0.95" ry="1.1" fill="#4a4a4a"/>
<rect x="133.45" y="247.25" width="9.80" height="33.70" fill="#79aa5c" stroke="#5e9444" stroke-width="0.7"/>
<line x1="138.35" y1="245.30" x2="138.35" y2="247.20" stroke="#454545" stroke-width="1.0"/>
<line x1="135.85" y1="245.30" x2="140.85" y2="245.30" stroke="#2a2a2a" stroke-width="1.1"/>
<line x1="138.35" y1="281.30" x2="138.35" y2="284.30" stroke="#222" stroke-width="1.1"/>
<rect x="148.95" y="227.45" width="9.70" height="53.50" fill="#79aa5c" stroke="#5e9444" stroke-width="0.7"/>
<line x1="153.80" y1="220.70" x2="153.80" y2="227.40" stroke="#454545" stroke-width="1.0"/>
<line x1="151.30" y1="220.70" x2="156.30" y2="220.70" stroke="#2a2a2a" stroke-width="1.1"/>
<line x1="153.80" y1="281.30" x2="153.80" y2="284.30" stroke="#222" stroke-width="1.1"/>
<text x="138.35" y="294.30" font-size="7.6" text-anchor="middle" fill="#1a1a1a" stroke="#1a1a1a" stroke-width="0.2" >-</text>
<text x="153.80" y="294.60" font-size="7.6" text-anchor="middle" fill="#1a1a1a" stroke="#1a1a1a" stroke-width="0.2" >+</text>
<text x="146.15" y="305.50" font-size="7.7" text-anchor="middle" fill="#1a1a1a" stroke="#1a1a1a" stroke-width="0.2"  textLength="9.8" lengthAdjust="spacingAndGlyphs">Scl</text>
<ellipse cx="152.25" cy="216.40" rx="0.95" ry="1.1" fill="#4a4a4a"/>
<ellipse cx="155.35" cy="216.40" rx="0.95" ry="1.1" fill="#4a4a4a"/>
<rect x="174.15" y="213.65" width="9.30" height="67.30" fill="#6e4c6e" stroke="#573559" stroke-width="0.7"/>
<line x1="178.80" y1="210.80" x2="178.80" y2="213.60" stroke="#454545" stroke-width="1.0"/>
<line x1="176.30" y1="210.80" x2="181.30" y2="210.80" stroke="#2a2a2a" stroke-width="1.1"/>
<line x1="178.80" y1="281.30" x2="178.80" y2="284.30" stroke="#222" stroke-width="1.1"/>
<rect x="189.55" y="208.95" width="9.10" height="72.00" fill="#6e4c6e" stroke="#573559" stroke-width="0.7"/>
<line x1="194.10" y1="199.40" x2="194.10" y2="208.90" stroke="#454545" stroke-width="1.0"/>
<line x1="191.60" y1="199.40" x2="196.60" y2="199.40" stroke="#2a2a2a" stroke-width="1.1"/>
<line x1="194.10" y1="281.30" x2="194.10" y2="284.30" stroke="#222" stroke-width="1.1"/>
<text x="178.80" y="294.30" font-size="7.6" text-anchor="middle" fill="#1a1a1a" stroke="#1a1a1a" stroke-width="0.2" >-</text>
<text x="194.10" y="294.60" font-size="7.6" text-anchor="middle" fill="#1a1a1a" stroke="#1a1a1a" stroke-width="0.2" >+</text>
<text x="186.35" y="305.50" font-size="7.7" text-anchor="middle" fill="#1a1a1a" stroke="#1a1a1a" stroke-width="0.2"  textLength="14.8" lengthAdjust="spacingAndGlyphs">DKO</text>
<text x="193.90" y="195.60" font-size="8.3" text-anchor="middle" fill="#1a1a1a" stroke="#1a1a1a" stroke-width="0.2"  textLength="9.4" lengthAdjust="spacingAndGlyphs">NS</text>
<text x="211.25" y="294.10" font-size="7.8" text-anchor="middle" fill="#1a1a1a" stroke="#1a1a1a" stroke-width="0.2"  textLength="13.8" lengthAdjust="spacingAndGlyphs">TPO</text>
<text x="238.90" y="175.60" font-size="11.2" text-anchor="middle" fill="#1a1a1a" >C</text>
<line x1="264.20" y1="193.00" x2="264.20" y2="281.60" stroke="#222" stroke-width="1.1"/>
<line x1="263.70" y1="281.10" x2="349.40" y2="281.10" stroke="#222" stroke-width="1.1"/>
<line x1="261.40" y1="281.00" x2="264.20" y2="281.00" stroke="#222" stroke-width="1.1"/>
<text x="258.20" y="283.85" font-size="7.7" text-anchor="end" fill="#1a1a1a" stroke="#1a1a1a" stroke-width="0.2" >0</text>
<line x1="261.40" y1="252.60" x2="264.20" y2="252.60" stroke="#222" stroke-width="1.1"/>
<text x="258.20" y="255.45" font-size="7.7" text-anchor="end" fill="#1a1a1a" stroke="#1a1a1a" stroke-width="0.2" >20</text>
<line x1="261.40" y1="224.20" x2="264.20" y2="224.20" stroke="#222" stroke-width="1.1"/>
<text x="258.20" y="227.05" font-size="7.7" text-anchor="end" fill="#1a1a1a" stroke="#1a1a1a" stroke-width="0.2" >40</text>
<line x1="261.40" y1="195.80" x2="264.20" y2="195.80" stroke="#222" stroke-width="1.1"/>
<text x="258.20" y="198.65" font-size="7.7" text-anchor="end" fill="#1a1a1a" stroke="#1a1a1a" stroke-width="0.2" >60</text>
<rect x="267.95" y="252.15" width="13.80" height="28.60" fill="#a23a48" stroke="#8c1d33" stroke-width="0.7"/>
<line x1="274.75" y1="244.40" x2="274.75" y2="252.10" stroke="#454545" stroke-width="1.0"/>
<line x1="270.95" y1="244.40" x2="278.55" y2="244.40" stroke="#2a2a2a" stroke-width="1.1"/>
<line x1="274.75" y1="281.10" x2="274.75" y2="283.60" stroke="#222" stroke-width="1.1"/>
<text x="274.75" y="294.10" font-size="7.7" text-anchor="middle" fill="#1a1a1a" stroke="#1a1a1a" stroke-width="0.2"  textLength="10.9" lengthAdjust="spacingAndGlyphs">WT</text>
<rect x="289.35" y="250.35" width="13.80" height="30.40" fill="#54688c" stroke="#3a5078" stroke-width="0.7"/>
<line x1="296.15" y1="244.40" x2="296.15" y2="250.30" stroke="#454545" stroke-width="1.0"/>
<line x1="292.35" y1="244.40" x2="299.95" y2="244.40" stroke="#2a2a2a" stroke-width="1.1"/>
<line x1="296.15" y1="281.10" x2="296.15" y2="283.60" stroke="#222" stroke-width="1.1"/>
<text x="296.15" y="294.10" font-size="7.7" text-anchor="middle" fill="#1a1a1a" stroke="#1a1a1a" stroke-width="0.2"  textLength="12.9" lengthAdjust="spacingAndGlyphs">Lyl1</text>
<rect x="310.75" y="253.35" width="13.80" height="27.40" fill="#79aa5c" stroke="#5e9444" stroke-width="0.7"/>
<line x1="317.55" y1="238.60" x2="317.55" y2="253.30" stroke="#454545" stroke-width="1.0"/>
<line x1="313.75" y1="238.60" x2="321.35" y2="238.60" stroke="#2a2a2a" stroke-width="1.1"/>
<line x1="317.55" y1="281.10" x2="317.55" y2="283.60" stroke="#222" stroke-width="1.1"/>
<text x="317.55" y="294.10" font-size="7.7" text-anchor="middle" fill="#1a1a1a" stroke="#1a1a1a" stroke-width="0.2"  textLength="9.2" lengthAdjust="spacingAndGlyphs">Scl</text>
<rect x="332.15" y="251.75" width="13.80" height="29.00" fill="#6e4c6e" stroke="#573559" stroke-width="0.7"/>
<line x1="338.95" y1="242.60" x2="338.95" y2="251.70" stroke="#454545" stroke-width="1.0"/>
<line x1="335.15" y1="242.60" x2="342.75" y2="242.60" stroke="#2a2a2a" stroke-width="1.1"/>
<line x1="338.95" y1="281.10" x2="338.95" y2="283.60" stroke="#222" stroke-width="1.1"/>
<text x="338.95" y="294.10" font-size="7.7" text-anchor="middle" fill="#1a1a1a" stroke="#1a1a1a" stroke-width="0.2"  textLength="14.8" lengthAdjust="spacingAndGlyphs">DKO</text>
<line x1="373.75" y1="193.00" x2="373.75" y2="281.60" stroke="#222" stroke-width="1.1"/>
<line x1="373.25" y1="281.10" x2="458.90" y2="281.10" stroke="#222" stroke-width="1.1"/>
<line x1="370.95" y1="281.00" x2="373.75" y2="281.00" stroke="#222" stroke-width="1.1"/>
<text x="367.75" y="283.85" font-size="7.7" text-anchor="end" fill="#1a1a1a" stroke="#1a1a1a" stroke-width="0.2" >0</text>
<line x1="370.95" y1="252.60" x2="373.75" y2="252.60" stroke="#222" stroke-width="1.1"/>
<text x="367.75" y="255.45" font-size="7.7" text-anchor="end" fill="#1a1a1a" stroke="#1a1a1a" stroke-width="0.2" >20</text>
<line x1="370.95" y1="224.20" x2="373.75" y2="224.20" stroke="#222" stroke-width="1.1"/>
<text x="367.75" y="227.05" font-size="7.7" text-anchor="end" fill="#1a1a1a" stroke="#1a1a1a" stroke-width="0.2" >40</text>
<line x1="370.95" y1="195.80" x2="373.75" y2="195.80" stroke="#222" stroke-width="1.1"/>
<text x="367.75" y="198.65" font-size="7.7" text-anchor="end" fill="#1a1a1a" stroke="#1a1a1a" stroke-width="0.2" >60</text>
<rect x="377.50" y="212.95" width="13.80" height="67.80" fill="#a23a48" stroke="#8c1d33" stroke-width="0.7"/>
<line x1="384.30" y1="212.30" x2="384.30" y2="212.90" stroke="#454545" stroke-width="1.0"/>
<line x1="380.50" y1="212.30" x2="388.10" y2="212.30" stroke="#2a2a2a" stroke-width="1.1"/>
<line x1="384.30" y1="281.10" x2="384.30" y2="283.60" stroke="#222" stroke-width="1.1"/>
<text x="384.30" y="294.10" font-size="7.7" text-anchor="middle" fill="#1a1a1a" stroke="#1a1a1a" stroke-width="0.2"  textLength="10.9" lengthAdjust="spacingAndGlyphs">WT</text>
<rect x="398.90" y="215.15" width="13.80" height="65.60" fill="#54688c" stroke="#3a5078" stroke-width="0.7"/>
<line x1="405.70" y1="211.80" x2="405.70" y2="215.10" stroke="#454545" stroke-width="1.0"/>
<line x1="401.90" y1="211.80" x2="409.50" y2="211.80" stroke="#2a2a2a" stroke-width="1.1"/>
<line x1="405.70" y1="281.10" x2="405.70" y2="283.60" stroke="#222" stroke-width="1.1"/>
<text x="405.70" y="294.10" font-size="7.7" text-anchor="middle" fill="#1a1a1a" stroke="#1a1a1a" stroke-width="0.2"  textLength="12.9" lengthAdjust="spacingAndGlyphs">Lyl1</text>
<rect x="420.30" y="232.45" width="13.80" height="48.30" fill="#79aa5c" stroke="#5e9444" stroke-width="0.7"/>
<line x1="427.10" y1="228.90" x2="427.10" y2="232.40" stroke="#454545" stroke-width="1.0"/>
<line x1="423.30" y1="228.90" x2="430.90" y2="228.90" stroke="#2a2a2a" stroke-width="1.1"/>
<line x1="427.10" y1="281.10" x2="427.10" y2="283.60" stroke="#222" stroke-width="1.1"/>
<text x="427.10" y="294.10" font-size="7.7" text-anchor="middle" fill="#1a1a1a" stroke="#1a1a1a" stroke-width="0.2"  textLength="9.2" lengthAdjust="spacingAndGlyphs">Scl</text>
<ellipse cx="425.55" cy="225.40" rx="0.95" ry="1.1" fill="#4a4a4a"/>
<ellipse cx="428.65" cy="225.40" rx="0.95" ry="1.1" fill="#4a4a4a"/>
<rect x="441.70" y="261.45" width="13.80" height="19.30" fill="#6e4c6e" stroke="#573559" stroke-width="0.7"/>
<line x1="448.50" y1="259.30" x2="448.50" y2="261.40" stroke="#454545" stroke-width="1.0"/>
<line x1="444.70" y1="259.30" x2="452.30" y2="259.30" stroke="#2a2a2a" stroke-width="1.1"/>
<line x1="448.50" y1="281.10" x2="448.50" y2="283.60" stroke="#222" stroke-width="1.1"/>
<text x="448.50" y="294.10" font-size="7.7" text-anchor="middle" fill="#1a1a1a" stroke="#1a1a1a" stroke-width="0.2"  textLength="14.8" lengthAdjust="spacingAndGlyphs">DKO</text>
<ellipse cx="445.40" cy="255.70" rx="0.95" ry="1.1" fill="#4a4a4a"/>
<ellipse cx="448.50" cy="255.70" rx="0.95" ry="1.1" fill="#4a4a4a"/>
<ellipse cx="451.60" cy="255.70" rx="0.95" ry="1.1" fill="#4a4a4a"/>
<text x="0.00" y="0.00" font-size="8.3" text-anchor="middle" fill="#1a1a1a" stroke="#1a1a1a" stroke-width="0.1" transform="translate(242.3,236.6) rotate(-90)" textLength="86" lengthAdjust="spacingAndGlyphs">Pro-platelet megs (%)</text>
<rect x="0" y="0" width="520" height="1" fill="#444"/>
<rect x="1" y="1" width="518" height="1" fill="#d8d8d8"/>
<rect x="0" y="313" width="520" height="1" fill="#999"/>
<rect x="0" y="314" width="520" height="1" fill="#444"/>
<rect x="0" y="0" width="1" height="315" fill="#0a0a0a"/>
<rect x="1" y="1" width="1" height="312" fill="#dcdcdc"/>
<rect x="519" y="0" width="1" height="315" fill="#0a0a0a"/>
<rect x="518" y="1" width="1" height="312" fill="#dcdcdc"/>
</svg>
</body></html>
